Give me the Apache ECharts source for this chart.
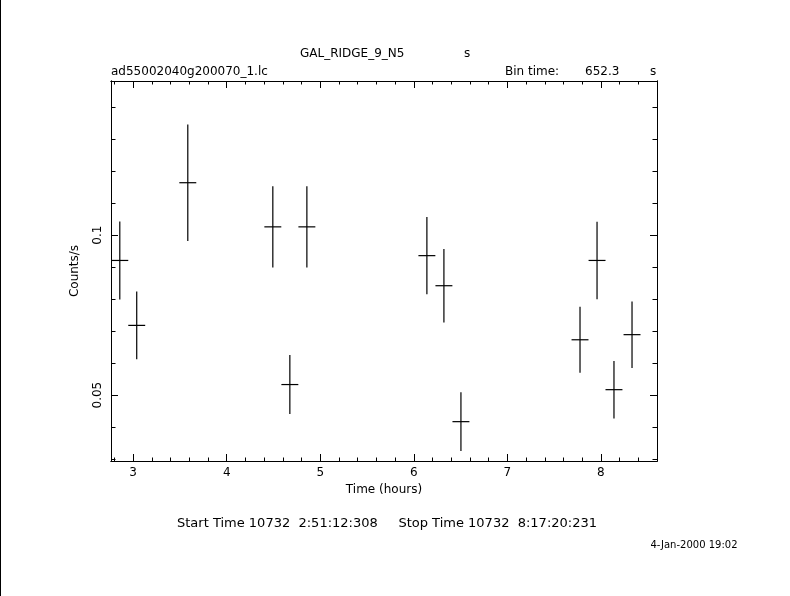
<!DOCTYPE html>
<html>
<head>
<meta charset="utf-8">
<script src="https://cdn.jsdelivr.net/npm/echarts@6/dist/echarts.min.js"></script>
<style>
html,body{margin:0;padding:0;background:#fff;}
#chart{width:790px;height:596px;}
</style>
</head>
<body>
<div id="chart"></div>
<script>
// Light-curve bins (time in hours, count rate in counts/s)
const time = [2.857, 3.038, 3.584, 4.493, 4.675, 4.857, 6.140, 6.322, 6.504, 7.777, 7.959, 8.140, 8.333];
const timeErr = [0.0906, 0.0906, 0.0906, 0.0906, 0.0906, 0.0906, 0.0906, 0.0906, 0.0906, 0.0906, 0.0906, 0.0906, 0.0906];
const rate = [0.0921, 0.0718, 0.1164, 0.1026, 0.0533, 0.1026, 0.0936, 0.0842, 0.0417, 0.0673, 0.0921, 0.0517, 0.0689];
const rateErr = [0.0122, 0.0106, 0.0182, 0.0127, 0.0092, 0.0127, 0.0121, 0.0115, 0.0092, 0.0103, 0.0121, 0.0090, 0.0104];

// Axis ranges and ticks
const xRange = [2.763, 8.600];
const yRange = [0.0294, 0.1482];
const xMajorTicks = [3, 4, 5, 6, 7, 8];
const xMinorTicks = [2.8, 3.2, 3.4, 3.6, 3.8, 4.2, 4.4, 4.6, 4.8, 5.2, 5.4, 5.6, 5.8, 6.2, 6.4, 6.6, 6.8, 7.2, 7.4, 7.6, 7.8, 8.2, 8.4];
const yMajorTicks = [0.05, 0.1];
const yMinorTicks = [0.03, 0.04, 0.06, 0.07, 0.08, 0.09, 0.11, 0.12, 0.13, 0.14];

const FONT = 'DejaVu Sans';
const chart = echarts.init(document.getElementById('chart'), null, {renderer: 'canvas'});

const gridBox = {left: 111, top: 81, width: 546, height: 380};

function xAx(gridIndex, position, ticks, len, labels) {
  return {
    type: 'value', gridIndex: gridIndex, position: position,
    min: xRange[0], max: xRange[1],
    axisLine: {show: true, lineStyle: {color: '#000', width: 1}},
    axisTick: {show: true, inside: true, length: len, customValues: ticks, lineStyle: {color: '#000', width: 1}},
    axisLabel: labels ? {show: true, customValues: labels, color: '#000', fontFamily: FONT, fontSize: 12, margin: 6} : {show: false},
    splitLine: {show: false}
  };
}
function yAx(gridIndex, position, ticks, len, labels) {
  return {
    type: 'value', gridIndex: gridIndex, position: position,
    min: yRange[0], max: yRange[1],
    axisLine: {show: true, lineStyle: {color: '#000', width: 1}},
    axisTick: {show: true, inside: true, length: len, customValues: ticks, lineStyle: {color: '#000', width: 1}},
    axisLabel: labels ? {show: true, customValues: labels, color: '#000', fontFamily: FONT, fontSize: 12, rotate: 90, margin: 7} : {show: false},
    splitLine: {show: false}
  };
}

function renderItem(params, api) {
  const x = api.value(0), y = api.value(1), ex = api.value(2), ey = api.value(3);
  const l = api.coord([x - ex, y]);
  const r = api.coord([x + ex, y]);
  const t = api.coord([x, y + ey]);
  const b = api.coord([x, y - ey]);
  const st = {stroke: '#000', lineWidth: 1.2};
  return {
    type: 'group',
    children: [
      {type: 'line', shape: {x1: l[0], y1: l[1], x2: r[0], y2: r[1]}, style: st},
      {type: 'line', shape: {x1: t[0], y1: t[1], x2: b[0], y2: b[1]}, style: st}
    ]
  };
}

const option = {
  backgroundColor: '#fff',
  animation: false,
  grid: [
    Object.assign({containLabel: false}, gridBox),
    Object.assign({containLabel: false}, gridBox)
  ],
  xAxis: [
    xAx(0, 'bottom', xMajorTicks, 7, xMajorTicks),
    xAx(0, 'top', xMajorTicks, 7, null),
    xAx(1, 'bottom', xMinorTicks, 3.5, null),
    xAx(1, 'top', xMinorTicks, 3.5, null)
  ],
  yAxis: [
    yAx(0, 'left', yMajorTicks, 7, yMajorTicks),
    yAx(0, 'right', yMajorTicks, 7, null),
    yAx(1, 'left', yMinorTicks, 4.5, null),
    yAx(1, 'right', yMinorTicks, 4.5, null)
  ],
  series: [{
    type: 'custom',
    xAxisIndex: 0, yAxisIndex: 0,
    renderItem: renderItem,
    encode: {x: 0, y: 1},
    data: time.map((t, i) => [t, rate[i], timeErr[i], rateErr[i]]),
    clip: false
  }],
  graphic: [
    {type: 'line', shape: {x1: 0.5, y1: 0, x2: 0.5, y2: 596}, style: {stroke: '#000', lineWidth: 1}},
    {type: 'text', left: 300, top: 48, style: {text: 'GAL_RIDGE_9_N5', fontFamily: FONT, fontSize: 12, fill: '#000'}},
    {type: 'text', left: 464, top: 48, style: {text: 's', fontFamily: FONT, fontSize: 12, fill: '#000'}},
    {type: 'text', left: 111, top: 66, style: {text: 'ad55002040g200070_1.lc', fontFamily: FONT, fontSize: 12, fill: '#000'}},
    {type: 'text', left: 505, top: 66, style: {text: 'Bin time:', fontFamily: FONT, fontSize: 12, fill: '#000'}},
    {type: 'text', left: 585, top: 66, style: {text: '652.3', fontFamily: FONT, fontSize: 12, fill: '#000'}},
    {type: 'text', left: 650, top: 66, style: {text: 's', fontFamily: FONT, fontSize: 12, fill: '#000'}},
    {type: 'text', x: 384, y: 490, style: {text: 'Time (hours)', fontFamily: FONT, fontSize: 12, fill: '#000', align: 'center', verticalAlign: 'middle'}},
    {type: 'text', x: 75, y: 271, rotation: Math.PI / 2, style: {text: 'Counts/s', fontFamily: FONT, fontSize: 12, fill: '#000', align: 'center', verticalAlign: 'middle'}},
    {type: 'text', x: 387, y: 524, style: {text: 'Start Time 10732  2:51:12:308     Stop Time 10732  8:17:20:231', fontFamily: FONT, fontSize: 13, fill: '#000', align: 'center', verticalAlign: 'middle'}},
    {type: 'text', x: 694, y: 545, style: {text: '4-Jan-2000 19:02', fontFamily: FONT, fontSize: 10, fill: '#000', align: 'center', verticalAlign: 'middle'}}
  ]
};
chart.setOption(option);
</script>
</body>
</html>
